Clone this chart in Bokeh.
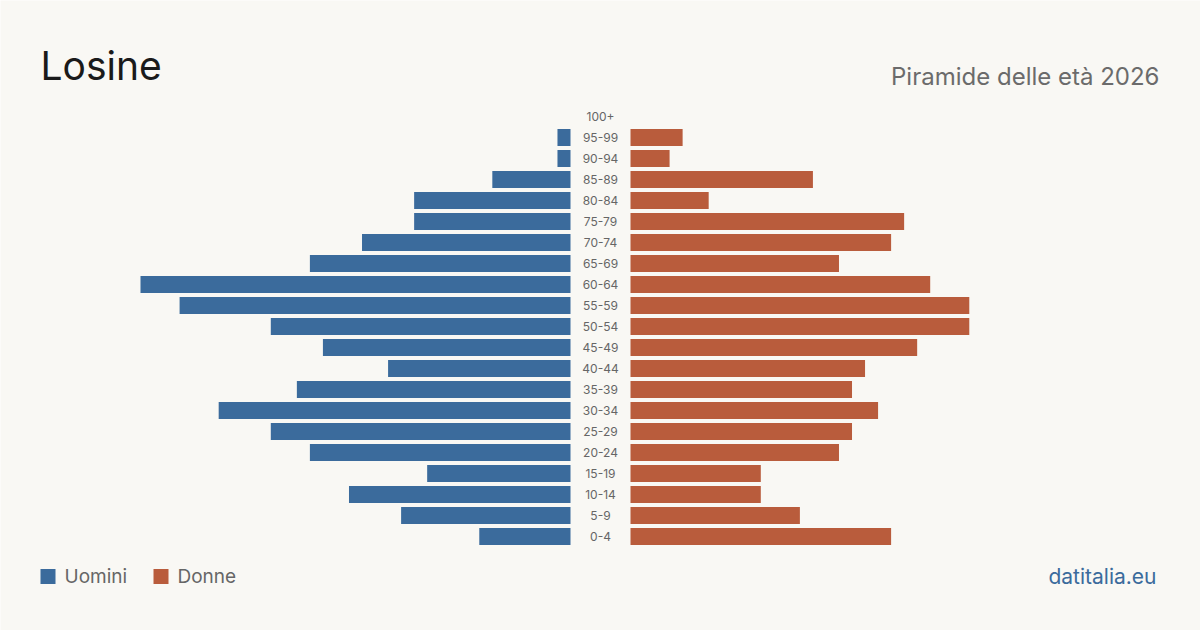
from bokeh.plotting import figure
from bokeh.models import Range1d, Label, ColumnDataSource
from bokeh.core.properties import value
from bokeh.embed import file_html
from bokeh.resources import INLINE

# Age groups from youngest to oldest
age_groups = ["0-4", "5-9", "10-14", "15-19", "20-24", "25-29", "30-34", "35-39",
              "40-44", "45-49", "50-54", "55-59", "60-64", "65-69", "70-74",
              "75-79", "80-84", "85-89", "90-94", "95-99", "100+"]
men = [7, 13, 17, 11, 20, 23, 27, 21, 14, 19, 23, 30, 33, 20, 16, 12, 12, 6, 1, 1, 0]
women = [20, 13, 10, 10, 16, 17, 19, 17, 18, 22, 26, 26, 23, 16, 20, 21, 6, 14, 3, 4, 0]

title_text = "Losine"
subtitle_text = "Piramide delle età 2026"
legend_labels = ["Uomini", "Donne"]
source_text = "datitalia.eu"

BLUE = "#3b6b9c"
RUST = "#b95c3c"
BG = "#f9f8f4"
FONT = "Inter"

W, H = 1200, 630
MAX_BAR_PX = 430.0
PX_PER_UNIT = MAX_BAR_PX / max(max(men), max(women))
CENTER_L, CENTER_R = 570.0, 630.0
ROW0_Y, ROW_STEP = 536.0, 21.0

p = figure(width=W, height=H, output_backend="svg", toolbar_location=None,
           x_range=Range1d(0, W), y_range=Range1d(H, 0),
           min_border=0, outline_line_color=None,
           background_fill_color=BG, border_fill_color=BG)
p.axis.visible = False
p.grid.visible = False

# value scales for each half of the pyramid, plus a row scale
p.extra_x_ranges = {
    "men": Range1d(CENTER_L / PX_PER_UNIT, (CENTER_L - W) / PX_PER_UNIT),
    "women": Range1d(-CENTER_R / PX_PER_UNIT, (W - CENTER_R) / PX_PER_UNIT),
}
p.extra_y_ranges = {
    "rows": Range1d((ROW0_Y - H) / ROW_STEP, ROW0_Y / ROW_STEP),
}

rows = list(range(len(age_groups)))
src = ColumnDataSource(dict(row=rows, age=age_groups, men=men, women=women,
                            mid=[W / 2] * len(rows)))

p.hbar(y="row", left=0, right="men", height=0.81, source=src,
       fill_color=BLUE, line_color=None,
       x_range_name="men", y_range_name="rows")
p.hbar(y="row", left=0, right="women", height=0.81, source=src,
       fill_color=RUST, line_color=None,
       x_range_name="women", y_range_name="rows")

p.text(x="mid", y="row", text="age", source=src, y_range_name="rows",
       text_align="center", text_baseline="middle", text_font=value(FONT),
       text_font_size="12px", text_color="#666666")

p.add_layout(Label(x=40, y=65, text=title_text, text_font=FONT,
                   text_font_size="39px", text_color="#1a1a1a",
                   text_baseline="middle"))
p.add_layout(Label(x=1159, y=76, text=subtitle_text, text_font=FONT,
                   text_font_size="24px", text_color="#6b6b6b",
                   text_align="right", text_baseline="middle"))

# legend
p.rect(x=[47.5, 160.5], y=[576, 576], width=15, height=15,
       fill_color=[BLUE, RUST], line_color=None)
p.text(x=[64, 177], y=[576, 576], text=legend_labels, text_font=value(FONT),
       text_font_size="19px", text_color="#666666", text_baseline="middle")

p.add_layout(Label(x=1156, y=576, text=source_text, text_font=FONT,
                   text_font_size="21px", text_color=BLUE,
                   text_align="right", text_baseline="middle"))

open("out.html", "w").write(file_html(p, INLINE))
